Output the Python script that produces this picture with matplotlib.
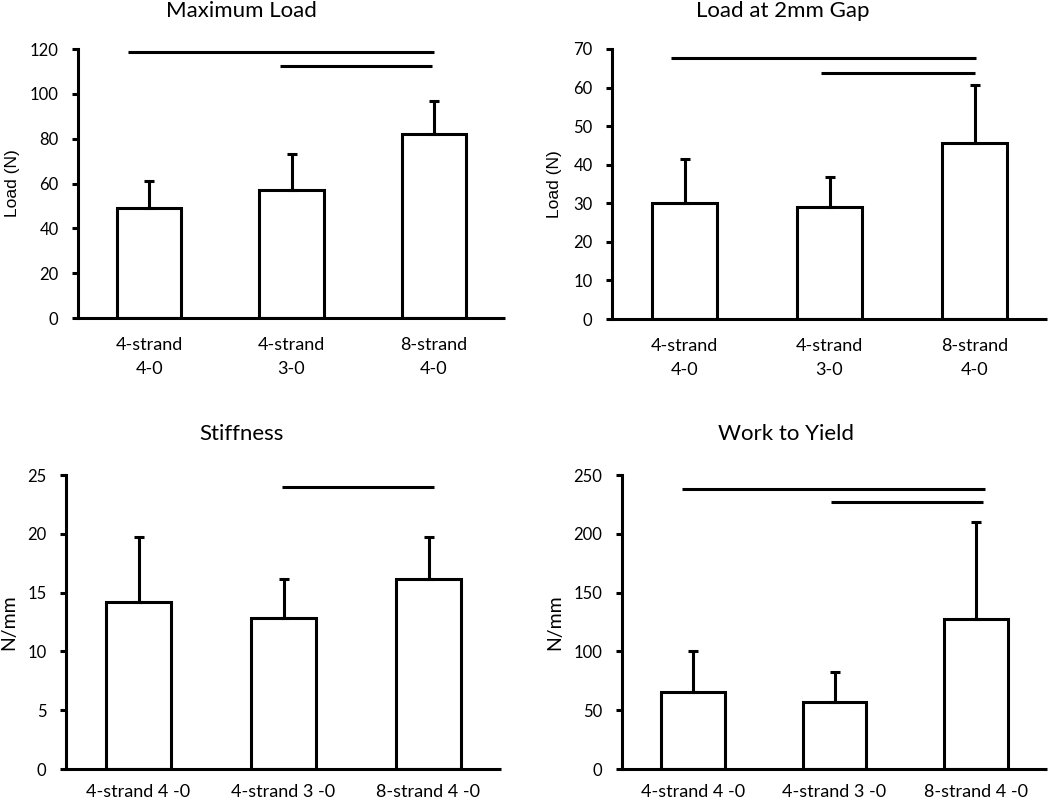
import matplotlib
matplotlib.use("Agg")
import matplotlib.pyplot as plt

plt.rcParams['font.family'] = ['Lato', 'DejaVu Sans']

# ---- data ----
cats_top = ["4-strand\n4-0", "4-strand\n3-0", "8-strand\n4-0"]
cats_bottom = ["4-strand 4 -0", "4-strand 3 -0", "8-strand 4 -0"]

max_load_mean = [49, 57.3, 82.3]
max_load_sd = [12, 16, 14.5]
max_load_sig = [(-0.15, 2.0, 118.5), (0.92, 1.99, 112.2)]

gap_load_mean = [30.2, 29.1, 45.5]
gap_load_sd = [11.2, 7.8, 15.2]
gap_load_sig = [(-0.09, 2.01, 67.7), (0.94, 2.0, 63.7)]

stiff_mean = [14.2, 12.8, 16.15]
stiff_sd = [5.55, 3.35, 3.6]
stiff_sig = [(0.99, 2.04, 24.0)]

work_mean = [65.2, 56.7, 127.3]
work_sd = [35, 26, 82.5]
work_sig = [(-0.08, 2.06, 238.4), (0.975, 2.05, 227.3)]

titles = ["Maximum Load", "Load at 2mm Gap", "Stiffness", "Work to Yield"]
ylabels = ["Load (N)", "Load (N)", "N/mm", "N/mm"]
yticks_list = [list(range(0, 121, 20)), list(range(0, 71, 10)),
               list(range(0, 26, 5)), list(range(0, 251, 50))]

fig = plt.figure(figsize=(10.5, 8.01), dpi=100)

W, H = 1050, 801
def rect(l, r, t, b):
    return [l / W, 1 - b / H, (r - l) / W, (b - t) / H]

panels = [
    dict(pos=rect(78, 505, 49, 318), mean=max_load_mean, sd=max_load_sd, sig=max_load_sig,
         cats=cats_top, xpad=14, title_xy=(241, 11), ylab_x=12, ylab_font=('Liberation Sans', 12.5)),
    dict(pos=rect(612, 1047, 49, 319), mean=gap_load_mean, sd=gap_load_sd, sig=gap_load_sig,
         cats=cats_top, xpad=14, title_xy=(783, 11), ylab_x=555, ylab_font=('Liberation Sans', 12.5)),
    dict(pos=rect(66, 501, 475, 769), mean=stiff_mean, sd=stiff_sd, sig=stiff_sig,
         cats=cats_bottom, xpad=11, title_xy=(241, 434), ylab_x=9, ylab_font=('Lato', 14)),
    dict(pos=rect(622, 1047, 475, 769), mean=work_mean, sd=work_sd, sig=work_sig,
         cats=cats_bottom, xpad=11, title_xy=(786, 434), ylab_x=555, ylab_font=('Lato', 14)),
]

LW = 2.2
for i, p in enumerate(panels):
    ax = fig.add_axes(p['pos'])
    x = list(range(len(p['mean'])))
    ax.bar(x, p['mean'], width=0.45, color='white', edgecolor='black', linewidth=LW, zorder=2)
    ax.errorbar(x, p['mean'], yerr=[[0] * len(x), p['sd']], fmt='none', ecolor='black',
                elinewidth=LW, capsize=3.5, capthick=LW, zorder=3)
    for (x0, x1, yv) in p['sig']:
        ax.hlines(yv, x0, x1, color='black', linewidth=LW, clip_on=False)
    yt = yticks_list[i]
    ax.set_ylim(yt[0], yt[-1])
    ax.set_yticks(yt)
    ax.set_xlim(-0.5, 2.5)
    ax.set_xticks(x)
    ax.set_xticklabels(p['cats'], fontsize=13, linespacing=1.55)
    ax.tick_params(axis='x', length=0, pad=p['xpad'])
    ax.tick_params(axis='y', length=4, width=LW, direction='out', labelsize=12, pad=10)
    for s in ['top', 'right']:
        ax.spines[s].set_visible(False)
    for s in ['left', 'bottom']:
        ax.spines[s].set_linewidth(LW)
    ax.spines['bottom'].set_capstyle('butt')
    # title
    tx, ty = p['title_xy']
    fig.text(tx / W, 1 - ty / H, titles[i], ha='center', va='center', fontsize=16)
    pos = ax.get_position()
    fam, fs = p['ylab_font']
    fig.text(p['ylab_x'] / W, pos.y0 + pos.height / 2, ylabels[i], rotation=90,
             ha='center', va='center', fontsize=fs, family=[fam, 'DejaVu Sans'])

fig.savefig("out.png", dpi=100)
